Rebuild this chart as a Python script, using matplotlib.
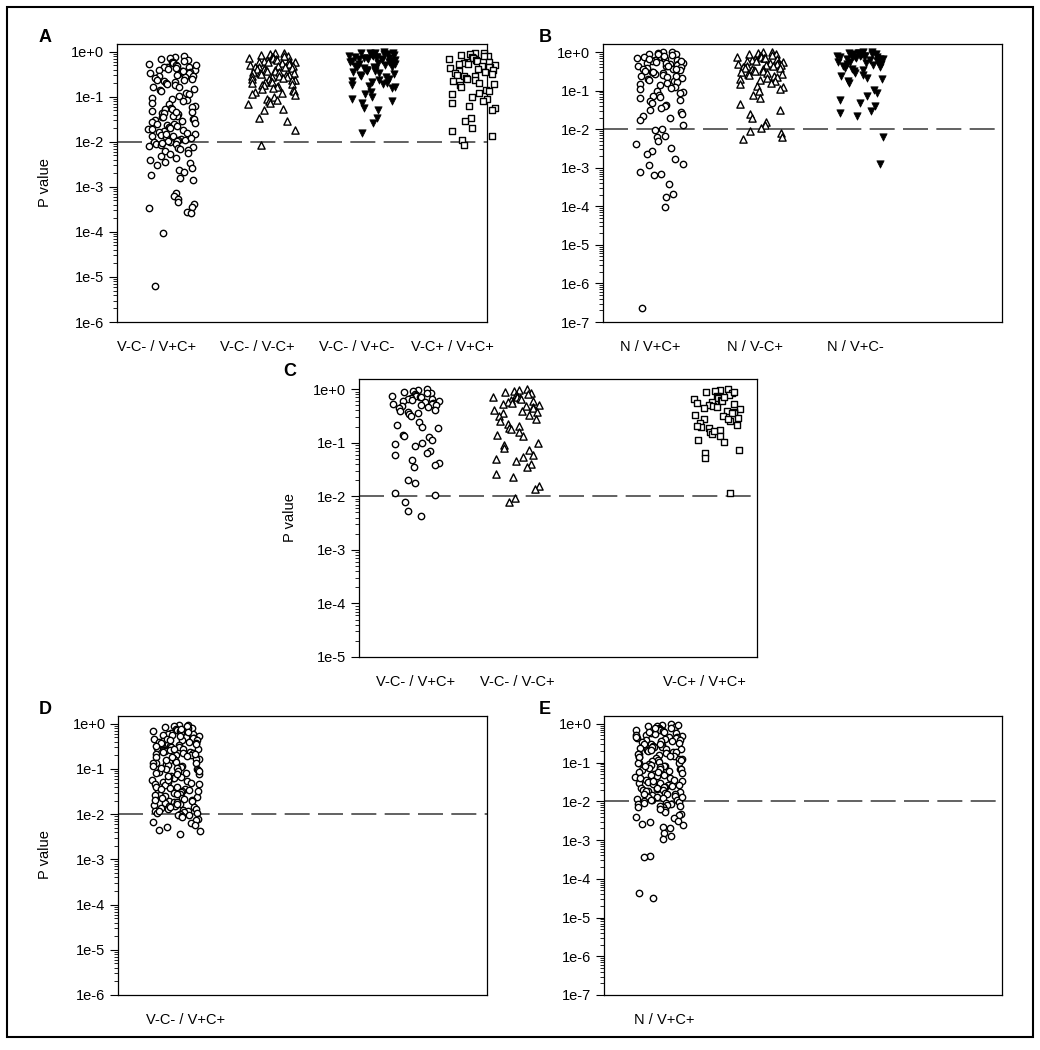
import numpy as np
import matplotlib
matplotlib.use('Agg')
import matplotlib.pyplot as plt
from matplotlib.ticker import LogLocator, FuncFormatter, NullFormatter
from matplotlib.patches import Rectangle

plt.rcParams['font.family'] = ['Liberation Sans', 'DejaVu Sans']
plt.rcParams['lines.scale_dashes'] = False

# P values as log10(P)
# panel A
a_labels = ['V-C- / V+C+', 'V-C- / V-C+', 'V-C- / V+C-', 'V-C+ / V+C+']
a_vcm_vcp = [-0.10, -0.11, -0.14, -0.17, -0.18, -0.2, -0.23, -0.24, -0.25, -0.28, -0.29, -0.31, -0.33, -0.34,
             -0.35, -0.38, -0.4, -0.41, -0.44, -0.45, -0.47, -0.48, -0.5, -0.53, -0.55, -0.56, -0.58, -0.6,
             -0.63, -0.66, -0.67, -0.7, -0.72, -0.75, -0.78, -0.79, -0.82, -0.86, -0.88, -0.92, -0.95, -0.99,
             -1.02, -1.05, -1.07, -1.1, -1.14, -1.16, -1.2, -1.22, -1.25, -1.27, -1.28, -1.31, -1.33, -1.36,
             -1.37, -1.39, -1.42, -1.43, -1.46, -1.49, -1.5, -1.52, -1.55, -1.57, -1.58, -1.61, -1.63, -1.65,
             -1.68, -1.7, -1.71, -1.74, -1.76, -1.79, -1.8, -1.82, -1.85, -1.87, -1.88, -1.9, -1.93, -1.95,
             -1.96, -1.98, -2.0, -2.01, -2.04, -2.06, -2.08, -2.11, -2.13, -2.16, -2.19, -2.2, -2.24, -2.28,
             -2.31, -2.36, -2.4, -2.44, -2.48, -2.52, -2.58, -2.63, -2.68, -2.74, -2.8, -2.85, -3.14, -3.2,
             -3.27, -3.33, -3.38, -3.44, -3.48, -3.55, -3.58, -4.02, -5.19,
             -0.3, -0.37, -0.43, -0.52, -0.62, -1.35, -1.45, -1.6, -1.72, -1.83, -1.91, -1.99, -2.02, -2.09]
a_vcm_vmcp = [-0.02, -0.03, -0.06, -0.07, -0.09, -0.1, -0.12, -0.12, -0.14, -0.15, -0.17, -0.18, -0.18, -0.2,
              -0.21, -0.23, -0.24, -0.24, -0.26, -0.27, -0.28, -0.3, -0.31, -0.31, -0.33, -0.34, -0.35, -0.37,
              -0.38, -0.38, -0.4, -0.41, -0.42, -0.44, -0.45, -0.45, -0.47, -0.48, -0.5, -0.51, -0.52, -0.53,
              -0.55, -0.56, -0.57, -0.58, -0.6, -0.61, -0.62, -0.64, -0.65, -0.67, -0.68, -0.7, -0.72, -0.73,
              -0.75, -0.77, -0.79, -0.81, -0.83, -0.85, -0.87, -0.9, -0.92, -0.94, -0.97, -1.0, -1.04, -1.07,
              -1.1, -1.13, -1.16, -1.27, -1.3, -1.48, -1.55, -1.74, -2.07]
a_vcm_vpcm = [-0.01, -0.02, -0.03, -0.04, -0.05, -0.06, -0.07, -0.08, -0.09, -0.1, -0.11, -0.12, -0.13, -0.14,
              -0.15, -0.16, -0.17, -0.18, -0.19, -0.2, -0.22, -0.23, -0.25, -0.26, -0.28, -0.3, -0.31, -0.33,
              -0.35, -0.36, -0.38, -0.4, -0.42, -0.44, -0.46, -0.48, -0.5, -0.52, -0.55, -0.57, -0.6, -0.62,
              -0.65, -0.68, -0.7, -0.72, -0.75, -0.77, -0.78, -0.8, -0.9, -0.95, -1.0, -1.04, -1.1, -1.15,
              -1.26, -1.3, -1.48, -1.59, -1.81, -0.04, -0.08, -0.12, -0.16, -0.21, -0.27, -0.34, -0.41]
a_vmcp_vcp = [-0.02, -0.04, -0.05, -0.07, -0.09, -0.1, -0.12, -0.13, -0.15, -0.17, -0.18, -0.2, -0.22, -0.23,
              -0.25, -0.27, -0.28, -0.3, -0.32, -0.34, -0.35, -0.37, -0.39, -0.41, -0.43, -0.45, -0.47, -0.49,
              -0.51, -0.53, -0.55, -0.58, -0.6, -0.63, -0.66, -0.69, -0.72, -0.75, -0.78, -0.84, -0.88, -0.92,
              -0.95, -1.0, -1.05, -1.1, -1.15, -1.2, -1.25, -1.3, -1.48, -1.55, -1.7, -1.77, -1.88, -1.96, -2.07]

# panel B
b_labels = ['N / V+C+', 'N / V-C+', 'N / V+C-']
b_n_vcp = [0.0, -0.01, -0.03, -0.05, -0.06, -0.08, -0.1, -0.11, -0.13, -0.15, -0.16, -0.18, -0.2, -0.21,
           -0.23, -0.25, -0.27, -0.28, -0.3, -0.32, -0.34, -0.35, -0.37, -0.39, -0.41, -0.43, -0.45, -0.47,
           -0.49, -0.51, -0.53, -0.55, -0.57, -0.6, -0.62, -0.64, -0.67, -0.69, -0.72, -0.75, -0.78, -0.8,
           -0.83, -0.86, -0.9, -0.93, -0.96, -1.0, -1.03, -1.06, -1.1, -1.13, -1.17, -1.2, -1.24, -1.28,
           -1.32, -1.36, -1.4, -1.45, -1.5, -1.55, -1.6, -1.65, -1.72, -1.77, -1.9, -2.0, -2.02, -2.17, -2.2,
           -2.3, -2.38, -2.49, -2.56, -2.64, -2.77, -2.9, -2.92, -3.12, -3.17, -3.2, -3.43, -3.69, -3.77,
           -4.03, -6.64, -0.04, -0.09, -0.14, -0.19, -0.24, -0.29, -0.36, -0.44, -0.52, -0.63]
b_n_vmcp = [0.0, -0.01, -0.03, -0.04, -0.06, -0.07, -0.09, -0.1, -0.12, -0.13, -0.15, -0.16, -0.18, -0.19,
            -0.21, -0.22, -0.24, -0.25, -0.27, -0.28, -0.3, -0.31, -0.33, -0.34, -0.36, -0.37, -0.39, -0.4,
            -0.42, -0.43, -0.45, -0.47, -0.49, -0.5, -0.52, -0.54, -0.56, -0.58, -0.6, -0.63, -0.65, -0.68,
            -0.7, -0.73, -0.76, -0.8, -0.83, -0.87, -0.9, -0.96, -1.0, -1.1, -1.2, -1.35, -1.5, -1.6, -1.7,
            -1.8, -1.9, -1.97, -2.05, -2.1, -2.2, -2.25]
b_n_vpcm = [0.0, -0.01, -0.02, -0.03, -0.04, -0.05, -0.06, -0.07, -0.08, -0.09, -0.1, -0.11, -0.12, -0.13,
            -0.14, -0.16, -0.17, -0.19, -0.2, -0.22, -0.24, -0.26, -0.28, -0.3, -0.32, -0.34, -0.36, -0.38,
            -0.4, -0.43, -0.46, -0.5, -0.55, -0.6, -0.63, -0.66, -0.7, -0.75, -0.8, -0.98, -1.07, -1.15,
            -1.24, -1.32, -1.4, -1.53, -1.57, -1.66, -2.21, -2.91, -0.02, -0.05, -0.09, -0.13, -0.18, -0.25]

# panel C
c_labels = ['V-C- / V+C+', 'V-C- / V-C+', 'V-C+ / V+C+']
c_vcm_vcp = [0.0, -0.02, -0.03, -0.05, -0.07, -0.08, -0.09, -0.1, -0.12, -0.13, -0.14, -0.15, -0.17, -0.18,
             -0.19, -0.2, -0.22, -0.23, -0.24, -0.25, -0.27, -0.28, -0.29, -0.3, -0.32, -0.34, -0.36, -0.38,
             -0.4, -0.42, -0.44, -0.46, -0.5, -0.61, -0.67, -0.7, -0.73, -0.85, -0.88, -0.9, -0.95, -1.0,
             -1.03, -1.06, -1.16, -1.19, -1.22, -1.32, -1.38, -1.42, -1.45, -1.7, -1.76, -1.93, -1.98, -2.1,
             -2.27, -2.37]
c_vcm_vmcp = [0.0, -0.02, -0.04, -0.05, -0.07, -0.09, -0.1, -0.12, -0.14, -0.15, -0.17, -0.19, -0.2, -0.22,
              -0.24, -0.26, -0.28, -0.3, -0.32, -0.34, -0.36, -0.38, -0.4, -0.42, -0.45, -0.48, -0.51, -0.55,
              -0.6, -0.65, -0.68, -0.72, -0.75, -0.8, -0.85, -0.88, -1.0, -1.05, -1.1, -1.13, -1.22, -1.27,
              -1.3, -1.35, -1.4, -1.45, -1.58, -1.64, -1.8, -1.86, -2.04, -2.1]
c_vmcp_vcp = [0.0, -0.02, -0.04, -0.06, -0.08, -0.1, -0.12, -0.14, -0.16, -0.18, -0.2, -0.22, -0.24, -0.27,
              -0.3, -0.32, -0.35, -0.37, -0.4, -0.42, -0.45, -0.48, -0.5, -0.53, -0.56, -0.6, -0.63, -0.66,
              -0.7, -0.73, -0.76, -0.8, -0.84, -0.88, -0.95, -0.98, -1.13, -1.2, -1.29, -1.94,
              -0.05, -0.15, -0.25, -0.34, -0.44, -0.55, -0.68, -0.78]

# panel D
d_labels = ['V-C- / V+C+']
d_vcm_vcp = [-0.03, -0.04, -0.06, -0.08, -0.09, -0.1, -0.12, -0.13, -0.15, -0.16, -0.17, -0.19, -0.21, -0.22,
             -0.23, -0.25, -0.26, -0.28, -0.3, -0.31, -0.32, -0.34, -0.35, -0.37, -0.39, -0.4, -0.41, -0.43,
             -0.44, -0.46, -0.48, -0.49, -0.51, -0.52, -0.54, -0.56, -0.57, -0.59, -0.6, -0.62, -0.64, -0.65,
             -0.67, -0.69, -0.7, -0.72, -0.74, -0.75, -0.77, -0.79, -0.81, -0.82, -0.84, -0.86, -0.88, -0.9,
             -0.91, -0.93, -0.95, -0.98, -1.0, -1.01, -1.03, -1.06, -1.08, -1.1, -1.11, -1.13, -1.16, -1.18,
             -1.2, -1.21, -1.24, -1.26, -1.28, -1.3, -1.31, -1.34, -1.36, -1.38, -1.4, -1.42, -1.44, -1.46,
             -1.48, -1.5, -1.52, -1.54, -1.56, -1.58, -1.6, -1.62, -1.64, -1.66, -1.68, -1.7, -1.72, -1.74,
             -1.76, -1.78, -1.8, -1.82, -1.84, -1.86, -1.88, -1.9, -1.92, -1.94, -1.96, -1.98, -2.0, -2.02,
             -2.04, -2.07, -2.1, -2.13, -2.17, -2.2, -2.24, -2.28, -2.35, -2.38, -2.43,
             -0.05, -0.11, -0.18, -0.27, -0.33, -0.42, -0.5, -0.58, -0.66, -0.73, -0.8, -0.87, -0.94, -1.04,
             -1.12, -1.19, -1.25, -1.33, -1.41, -1.49, -1.57, -1.65, -1.73, -1.81, -1.89, -1.97, -0.36, -0.45,
             -0.55, -0.63, -0.97, -1.05, -1.15, -1.45, -1.55, -1.69, -1.77, -1.85, -1.93, -2.01]

# panel E
e_labels = ['N / V+C+']
e_n_vcp = [-0.01, -0.03, -0.05, -0.06, -0.08, -0.1, -0.11, -0.13, -0.15, -0.17, -0.18, -0.2, -0.22, -0.24,
           -0.25, -0.27, -0.29, -0.31, -0.33, -0.34, -0.36, -0.38, -0.4, -0.42, -0.43, -0.45, -0.47, -0.49,
           -0.51, -0.53, -0.55, -0.57, -0.59, -0.6, -0.62, -0.64, -0.66, -0.68, -0.7, -0.72, -0.74, -0.76,
           -0.78, -0.8, -0.82, -0.84, -0.86, -0.88, -0.9, -0.92, -0.94, -0.96, -0.98, -1.0, -1.02, -1.04,
           -1.06, -1.08, -1.1, -1.12, -1.14, -1.16, -1.18, -1.2, -1.22, -1.24, -1.26, -1.28, -1.3, -1.32,
           -1.34, -1.36, -1.38, -1.4, -1.42, -1.44, -1.46, -1.48, -1.5, -1.52, -1.54, -1.56, -1.58, -1.6,
           -1.62, -1.64, -1.66, -1.68, -1.7, -1.72, -1.74, -1.76, -1.78, -1.8, -1.82, -1.84, -1.86, -1.88,
           -1.9, -1.92, -1.94, -1.96, -1.98, -2.0, -2.02, -2.04, -2.06, -2.08, -2.1, -2.13, -2.16, -2.19,
           -2.23, -2.27, -2.32, -2.36, -2.4, -2.44, -2.5, -2.53, -2.58, -2.62, -2.66, -2.7, -2.83, -2.9,
           -2.97, -3.42, -3.45, -4.36, -4.49,
           -0.04, -0.12, -0.21, -0.28, -0.35, -0.44, -0.52, -0.61, -0.69, -0.77, -0.85, -0.93, -1.01, -1.09,
           -1.17, -1.25, -1.33, -1.41, -1.49, -1.57, -1.65, -1.73, -1.81, -1.89, -1.97, -2.05, -2.11, -2.15,
           -2.21]

W, H = 1040, 1050
fig = plt.figure(figsize=(W / 100, H / 100), dpi=100)

circle = dict(marker='o', s=21, facecolors='white', edgecolors='black', linewidths=1.0)
tri = dict(marker='^', s=27, facecolors='white', edgecolors='black', linewidths=1.0)
down = dict(marker='v', s=28, facecolors='black', edgecolors='black', linewidths=0.5)
square = dict(marker='s', s=19, facecolors='white', edgecolors='black', linewidths=1.0)


def jitter(n, width=0.48):
    # deterministic scatter of the points across the column width
    k = np.arange(1, n + 1)
    h = np.sin(k * 12.9898 + 78.233) * 43758.5453
    return (h - np.floor(h) - 0.5) * width


def panel(box, ymin, ytop, xlim, groups, ticks, labels):
    l, t, r, b = box
    ax = fig.add_axes([l / W, 1 - b / H, (r - l) / W, (b - t) / H])
    ax.axhline(0.01, color='#555555', lw=1.3, ls=(0, (18, 6)), zorder=1)
    for pos, vals, style in groups:
        v = np.array(vals)
        ax.scatter(pos + jitter(len(v)), 10 ** v, zorder=3, clip_on=False, **style)
    ax.set_yscale('log')
    ax.set_ylim(10.0 ** ymin, 10.0 ** ytop)
    ax.set_xlim(*xlim)
    ax.yaxis.set_major_locator(LogLocator(base=10, numticks=20))
    ax.yaxis.set_minor_locator(LogLocator(base=10, subs=np.arange(2, 10), numticks=20))
    ax.yaxis.set_major_formatter(FuncFormatter(lambda v, p: '1e%+d' % round(np.log10(v))))
    ax.yaxis.set_minor_formatter(NullFormatter())
    ax.tick_params(axis='y', which='major', direction='out', length=6, width=0.8, pad=3, labelsize=10.5)
    ax.tick_params(axis='y', which='minor', direction='out', length=3, width=0.6)
    ax.set_xticks(ticks)
    ax.set_xticklabels(labels)
    ax.tick_params(axis='x', length=0, pad=13, labelsize=10.5)
    for s in ax.spines.values():
        s.set_linewidth(0.9)
    return ax


panel((117, 44, 487, 322), -6, 0.17, (0.45, 4.15),
      [(1, a_vcm_vcp, circle), (2, a_vcm_vmcp, tri), (3, a_vcm_vpcm, down), (4, a_vmcp_vcp, square)],
      [0.85, 1.85, 2.85, 3.8], a_labels)
panel((603, 44, 1002, 322), -7, 0.21, (0.43, 4.42),
      [(1, b_n_vcp, circle), (2, b_n_vmcp, tri), (3, b_n_vpcm, down)],
      [0.9, 1.95, 2.95], b_labels)
panel((359, 379, 757, 657), -5, 0.19, (0.44, 4.40),
      [(1, c_vcm_vcp, circle), (2, c_vcm_vmcp, tri), (4, c_vmcp_vcp, square)],
      [1.0, 2.02, 3.88], c_labels)
panel((118, 716, 487, 995), -6, 0.17, (0.42, 4.11),
      [(1, d_vcm_vcp, circle)], [1.1], d_labels)
panel((604, 716, 1002, 995), -7, 0.2, (0.45, 4.43),
      [(1, e_n_vcp, circle)], [1.05], e_labels)

# panel letters and y titles
for x, y, s in [(45, 37, 'A'), (545, 37, 'B'), (290, 372, 'C'), (45, 709, 'D'), (545, 709, 'E')]:
    fig.text(x / W, 1 - y / H, s, ha='center', va='center', fontsize=13, fontweight='bold')
for x, y in [(45, 183), (290, 518), (45, 855)]:
    fig.text(x / W, 1 - y / H, 'P value', rotation=90, ha='center', va='center', fontsize=10.5)

fig.patches.append(Rectangle((7 / W, 1 - 1037 / H), 1026 / W, 1030 / H, transform=fig.transFigure,
                             fill=False, edgecolor='black', linewidth=1.5))

fig.savefig('out.png', dpi=100)
